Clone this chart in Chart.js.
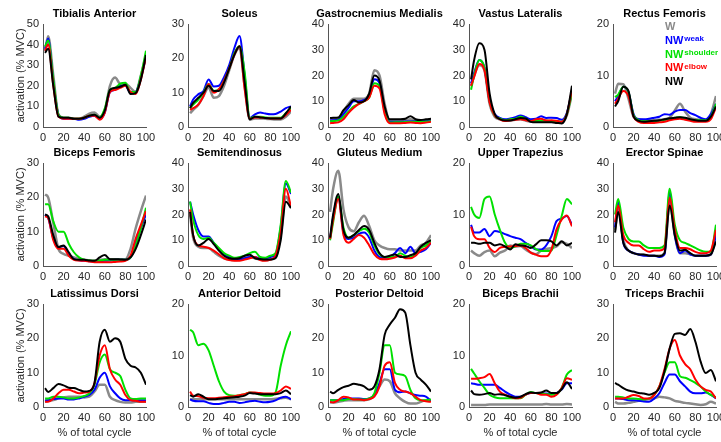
<!DOCTYPE html>
<html>
<head>
<meta charset="utf-8">
<script src="https://cdn.jsdelivr.net/npm/chart.js@4.4.0/dist/chart.umd.min.js"></script>
<style>
  body { margin: 0; background: #fff; width: 721px; height: 442px; overflow: hidden; position: relative; }
  canvas { position: absolute; }
</style>
</head>
<body>
<script>
// % of gait cycle where each value was read
const cycle = [2, 5, 10, 15, 20, 25, 30, 35, 40, 45, 50, 55, 60, 65, 70, 75, 80, 85, 90, 95, 100];

const seriesLabels = ['W', 'NW weak', 'NW shoulder', 'NW elbow', 'NW'];
const seriesColors = ['#8a8a8a', '#0000ff', '#00e000', '#ff0000', '#000000'];

const titles = ['Tibialis Anterior', 'Soleus', 'Gastrocnemius Medialis', 'Vastus Lateralis', 'Rectus Femoris',
  'Biceps Femoris', 'Semitendinosus', 'Gluteus Medium', 'Upper Trapezius', 'Erector Spinae',
  'Latissimus Dorsi', 'Anterior Deltoid', 'Posterior Deltoid', 'Biceps Brachii', 'Triceps Brachii'];
const yMax = [50, 30, 40, 40, 20, 30, 40, 40, 20, 40, 30, 20, 30, 20, 30];

// each muscle: [W, NW weak, NW shoulder, NW elbow, NW]
const tibialisAnterior = [
  [37, 44, 25, 6, 4.5, 4.5, 4, 4, 5, 6.5, 7, 5, 8, 20, 24, 21, 21, 19, 17, 25, 35],
  [38, 43, 22, 6, 4, 4, 4, 3.5, 4, 5, 5.5, 4, 7, 17, 18, 20, 20, 16.5, 17, 24, 34],
  [39, 42, 23, 6, 4.5, 4.5, 4, 4, 4.5, 5.5, 6, 4.5, 9, 18, 19, 21, 21.5, 17, 17, 25, 37],
  [37, 40, 20, 5, 4, 4, 4, 4, 4.5, 5.5, 5.5, 3.5, 7, 17, 18, 19, 20, 17, 16, 23, 34],
  [36, 38, 20, 5, 4.5, 4.5, 4, 4, 4.5, 5.5, 6, 4.5, 8, 18, 19, 19.5, 20.5, 16, 16.5, 23, 35]
];
const soleus = [
  [4, 5, 6.5, 9, 11.5, 8.5, 9, 12, 16.5, 21, 23, 12, 2.2, 2.5, 2.5, 2.4, 2.3, 2.2, 2.2, 3, 4.5],
  [6, 8, 9.5, 10.5, 13.8, 11.8, 12, 14.5, 18, 23, 26.5, 15, 2.6, 3.7, 4.2, 3.9, 3.7, 3.8, 4.5, 5.5, 6],
  [5.5, 6.5, 8, 10, 12.5, 10.5, 11, 13.5, 17, 21.5, 23.5, 16, 2.6, 3, 3, 2.8, 2.7, 2.7, 2.7, 4, 5.5],
  [5, 5.5, 6.5, 9, 12.5, 10, 11, 13.5, 17, 21, 23.5, 11, 2.4, 2.8, 2.8, 2.6, 2.5, 2.5, 2.5, 3.5, 5],
  [5.5, 7, 8.5, 10, 12, 10.5, 10.5, 13, 17, 21, 23.5, 13, 2.2, 3, 2.8, 2.6, 2.5, 2.5, 2.5, 4, 6]
];
const gastrocnemius = [
  [2.8, 3, 3, 6, 9, 11, 11, 11, 13, 22, 20, 9, 2.5, 2.5, 2.5, 2.7, 3, 2.7, 2.5, 2.6, 2.8],
  [2.5, 2.6, 2.8, 5, 7.5, 10, 10, 10.5, 12, 18.5, 17, 7, 2, 2, 2, 2.1, 2.2, 2.2, 2.2, 2.3, 2.5],
  [2.2, 2.3, 2.5, 4, 6, 8, 9, 10, 11.5, 17, 16, 6, 1.7, 1.8, 1.8, 1.9, 2, 2, 2, 2.1, 2.2],
  [1.5, 1.6, 1.8, 3, 5.5, 7.5, 9, 10, 11.5, 16, 15, 5, 1.5, 1.5, 1.5, 1.6, 1.7, 1.6, 1.5, 1.7, 2],
  [3.5, 3.6, 3.7, 6.5, 8.5, 10.5, 9.5, 10, 13, 20, 18, 8, 3, 3, 3, 3.2, 4.2, 3, 2.7, 3, 3.2]
];
const vastusLateralis = [
  [16, 20, 24, 22, 9, 4, 3, 2.5, 2.5, 2.8, 3, 2.5, 2, 2, 2.3, 2.2, 2, 2, 1.8, 4.5, 13],
  [17, 21, 26, 23, 10, 5, 3.5, 3, 3.3, 3.8, 4.5, 3.8, 3, 3.2, 4.2, 3.5, 3.6, 3.5, 2.8, 5.5, 14],
  [14.5, 20, 26, 23, 10, 4.5, 3.3, 2.6, 3, 3.2, 4, 3.2, 2.3, 2.3, 2.5, 2.5, 2.3, 2.3, 2, 5, 13],
  [16, 19.5, 24.5, 22, 9.5, 4.5, 3, 2.3, 2.6, 2.8, 3, 2.6, 2.3, 3, 3.2, 2.5, 2.6, 2.4, 2, 5, 14.5],
  [18.5, 26, 32.5, 30, 13, 5, 3, 2.5, 2.5, 3, 3.5, 3.3, 2, 1.8, 1.8, 1.8, 1.8, 1.6, 1.4, 5, 16]
];
const rectusFemoris = [
  [6.5, 8.4, 8.3, 5.5, 2, 1.5, 1.3, 1.3, 1.3, 1.4, 1.5, 1.8, 3.2, 4.5, 3, 1.8, 1.5, 1.4, 1.3, 2.5, 6],
  [5, 6, 7.8, 6.8, 2.5, 1.5, 1.5, 1.6, 1.8, 2, 2.5, 2.4, 3, 3.3, 3.3, 2.7, 2.3, 1.8, 1.5, 2.5, 4.5],
  [5.8, 6.3, 7.8, 6.8, 2.3, 1.3, 1.1, 1.1, 1.1, 1.2, 1.4, 1.5, 1.8, 1.9, 1.7, 1.4, 1.3, 1.3, 1.3, 2, 4.5],
  [4.5, 5.5, 7, 6, 2, 1, 0.8, 0.8, 0.8, 0.9, 1, 1.3, 1.5, 1.6, 1.4, 1.2, 1, 1, 1, 1.5, 3.8],
  [4, 5, 7.8, 7, 2, 1.2, 1, 1.1, 1.2, 1.3, 1.5, 1.7, 1.8, 1.9, 1.8, 1.5, 1.3, 1.2, 1.2, 2, 4]
];
const bicepsFemoris = [
  [20.8, 20, 12.5, 5, 3.5, 3, 2.5, 2, 1.8, 1.6, 1.5, 1.8, 2, 2, 2, 2, 2, 5, 11, 16, 20.5],
  [15, 14, 8, 5.5, 5.8, 3.5, 2, 1.7, 1.5, 1.4, 1.3, 1.4, 1.5, 1.6, 1.8, 1.8, 1.8, 2.5, 7, 11, 15],
  [18, 18, 13, 10, 10, 6.5, 4, 2.5, 1.8, 1.6, 1.5, 1.6, 1.8, 1.8, 1.8, 1.8, 1.8, 2.5, 6, 11, 17],
  [14.5, 14, 7.5, 5, 5, 3, 1.8, 1.6, 1.5, 1.3, 1.1, 1.1, 1.1, 1.1, 1.2, 1.3, 1.5, 3, 8, 12, 16],
  [15, 14.5, 9, 5.5, 6, 4, 2, 1.8, 1.8, 1.6, 1.5, 2.5, 3.2, 2, 2, 1.9, 1.8, 2.5, 5, 9, 13.5]
];
const semitendinosus = [
  [20, 11, 7.5, 7, 7, 5.5, 4, 3, 2.5, 2.3, 2.5, 3, 3.5, 3, 2.5, 2.3, 2.5, 3.5, 12, 27, 23],
  [25, 20, 14, 11.5, 11.5, 9, 6.5, 4.5, 3.5, 2.5, 2.5, 3, 3.5, 3.5, 3, 3, 3.5, 4.5, 15, 32, 28],
  [25, 18, 12, 10.5, 11, 9, 7, 5, 4, 3.2, 3.5, 4, 5, 5.5, 3.5, 3.2, 4, 5, 16, 33, 28.5],
  [22, 12, 8, 7.5, 7, 6, 4.5, 3, 2.3, 2, 2, 2.5, 3, 3.5, 2.3, 2, 2.5, 4, 13, 30, 23],
  [21, 12, 8, 9, 10.5, 8.5, 6, 4, 3, 2.8, 3, 4, 4.4, 3, 2.7, 2.5, 2.5, 3, 10, 25, 22.5]
];
const gluteusMedium = [
  [21, 30, 37, 22, 15, 13.5, 17, 19.5, 15.5, 10, 8, 7, 6.5, 6.5, 6, 6, 6, 6, 8, 9, 12],
  [10.5, 19, 27, 13, 10.5, 11, 12.5, 13, 11, 6, 3.5, 3.2, 3.5, 5, 7, 5, 7.5, 5, 5.5, 6.5, 9],
  [10, 17, 27, 15, 11, 12, 13.5, 14.5, 13, 8, 4.5, 3.5, 3.5, 3.5, 5, 4, 3.5, 4.5, 7, 8, 10],
  [10.5, 18, 26, 12, 9, 10.5, 12, 11, 8, 4.5, 2.8, 2.6, 2.8, 3.3, 4, 3, 3, 4, 6, 7, 9],
  [11, 20, 28, 14, 11, 12, 14, 15.5, 14, 9, 5, 3.5, 4, 4.5, 3.5, 3.5, 4.2, 5, 7.5, 9, 10]
];
const upperTrapezius = [
  [3, 2.5, 2, 2.7, 3, 1.9, 2.6, 3, 4, 3.8, 3.9, 3.2, 2.6, 2.3, 3, 3.3, 3.5, 3.8, 4.6, 4.3, 3.5],
  [8, 6.5, 6.5, 7.2, 5.8, 6.8, 6.6, 6.2, 5.8, 5.5, 5.2, 4.5, 3.9, 3.2, 3.2, 4, 5.8, 8.7, 9.2, 9.7, 8],
  [11.5, 10, 9.3, 13, 13.5, 10, 7, 4.5, 3.5, 3.8, 4.3, 4.3, 4, 3.3, 2.9, 2.9, 3, 6, 9.7, 13, 12],
  [7.6, 5.8, 5.2, 5.2, 3.5, 2.7, 3.5, 3.7, 3.8, 3.9, 4, 3.5, 2.6, 2.2, 1.9, 1.9, 3.2, 7.1, 9, 9.8, 7.7],
  [4.5, 4.5, 4.3, 4.5, 4.5, 4, 4.2, 3.8, 3.2, 4.2, 4, 3.9, 3.5, 4.2, 5, 5, 4.8, 4, 4.8, 4, 4.5]
];
const erectorSpinae = [
  [14, 22, 10, 6, 5, 4.5, 4.3, 4, 4, 4, 5, 25, 12, 5, 5, 4.5, 4, 4, 4, 4.5, 11],
  [15, 25, 9, 6, 5, 4.5, 4, 4, 4, 3.5, 4.5, 28.5, 12, 5, 6, 4.5, 4, 4, 4, 4.5, 12],
  [20, 26, 15, 10.5, 9.5, 9.5, 8, 7, 7, 7, 8, 30, 16, 10, 9, 8, 7, 6, 5.5, 5.5, 16],
  [17, 23.5, 12, 9, 8, 8, 6.5, 5.5, 6, 6, 7, 26.5, 14, 7, 7, 6.5, 5.5, 5, 5, 6, 14],
  [13, 21, 9, 6, 5, 4.5, 4.5, 4, 4, 3.8, 5, 23.5, 12, 6, 6.3, 5, 4, 4, 4, 4.5, 9.5]
];
const latissimusDorsi = [
  [1.5, 1.8, 2, 2.5, 2.8, 3, 3, 3, 2.8, 3, 4.5, 6.5, 6.5, 3, 2, 1.5, 1.3, 1.3, 1.5, 1.5, 1.5],
  [2, 2, 2.3, 2.5, 2.5, 2.2, 2.2, 2.5, 3, 3.5, 5, 8.5, 10, 6, 4, 2.5, 2, 2, 2, 2, 2],
  [2.5, 2.5, 3, 3, 2.8, 2.5, 2.5, 2.8, 3.2, 4, 6.5, 13, 15.3, 11, 10, 9, 5, 2.5, 2.3, 2.5, 2.5],
  [1.5, 1.5, 2.5, 4, 5, 5, 4.5, 4, 4.2, 4.5, 7, 15, 18, 11, 8, 6.5, 3.5, 2, 1.8, 1.5, 1.5],
  [5.5, 4.4, 5.5, 6.7, 6.3, 5.6, 5.5, 5, 4.5, 4.7, 7, 19, 22.5, 19, 20, 19, 14, 12, 11.5, 10, 6.5]
];
const anteriorDeltoid = [
  [1.5, 1.5, 1.5, 1.5, 1.5, 1.5, 1.5, 1.5, 1.5, 1.5, 1.5, 1.5, 1.5, 1.5, 1.5, 1.5, 1.5, 1.6, 1.7, 1.8, 1.5],
  [1.5, 1.2, 1.1, 1.1, 0.8, 0.6, 0.6, 0.8, 1, 1, 0.8, 0.9, 1.1, 1.2, 1, 0.9, 1, 1.3, 1.8, 2, 1.5],
  [15, 14.5, 12, 12.3, 11, 8, 5, 3, 2.3, 2.2, 2.3, 2.5, 2.8, 2.7, 2.4, 2.2, 2.2, 2.8, 8, 12, 14.7],
  [3, 2.2, 2.1, 1.8, 1.7, 1.7, 1.8, 1.9, 2, 2.1, 2.3, 2.5, 2.8, 2.8, 2.7, 2.6, 2.6, 2.7, 3.2, 4, 3.5],
  [2.3, 2, 2.5, 2, 1.5, 1.5, 1.6, 1.7, 1.8, 1.9, 2, 2.2, 2.7, 2.6, 2.5, 2.5, 2.5, 2.5, 2.7, 3.2, 2.5]
];
const posteriorDeltoid = [
  [1.3, 1.3, 1.5, 1.8, 2, 2, 2, 2, 2.2, 3.5, 6, 8, 7.5, 4, 2.5, 1.5, 1, 1, 1.5, 2, 2],
  [2, 2, 2, 2.3, 2.5, 2.5, 2.5, 2.3, 2.5, 3.5, 7, 11, 11, 5, 4.3, 4.5, 4, 3.5, 3.3, 3, 1.8],
  [2, 2, 2, 2, 2.3, 2.3, 2.2, 2.2, 2.5, 4, 10, 18, 18, 10, 9.5, 9, 5, 2.5, 2, 2, 2.2],
  [1.5, 1.3, 2, 3, 2.8, 2.2, 2.2, 2, 2.3, 3, 6, 12, 13, 7, 5, 4.5, 4, 3, 2, 1.7, 1.5],
  [4.5, 4, 5, 5.8, 6.2, 6.8, 6.5, 6, 5, 6, 11, 21, 24, 26, 28.5, 27.5, 18, 10, 8, 6.5, 4.5]
];
const bicepsBrachii = [
  [0.4, 0.4, 0.4, 0.4, 0.5, 0.5, 0.5, 0.5, 0.5, 0.5, 0.5, 0.5, 0.5, 0.5, 0.5, 0.6, 0.5, 0.5, 0.5, 0.6, 0.5],
  [4.6, 4.5, 4.3, 4.3, 4.3, 4.3, 3.7, 3, 2.4, 2, 2, 2.4, 2.7, 2.7, 2.7, 2.6, 2.5, 2.7, 3.4, 4.6, 4.6],
  [7.4, 6.5, 5, 3.7, 2.4, 1.9, 1.7, 1.7, 1.7, 1.7, 1.7, 2.4, 2.9, 2.7, 2.6, 2.5, 2.4, 2.5, 3.7, 6.3, 7.2],
  [5.5, 5.5, 5.6, 5.8, 6.4, 4.6, 3, 2.4, 2, 1.7, 1.8, 2.4, 2.7, 2.7, 2.4, 2.4, 2, 2.4, 3.7, 5.6, 5.3],
  [3.2, 2.5, 2.4, 2.5, 2.7, 2.4, 2.5, 2.3, 2, 1.8, 2, 2.5, 2.8, 2.7, 2.8, 3.2, 2.7, 2.7, 3.5, 4.8, 3.5]
];
const tricepsBrachii = [
  [1.5, 1, 1, 1.2, 1.5, 1.8, 2, 2.3, 2.5, 3, 2.8, 2.5, 1.8, 1.5, 1.2, 1, 0.8, 0.6, 0.8, 1.5, 1],
  [2.5, 2.5, 2.3, 2, 2, 1.8, 1.6, 1.5, 2.5, 4, 7, 9.5, 9.5, 7.5, 6, 4.5, 4, 4, 4.2, 3.5, 2.5],
  [3, 3, 2.8, 2.5, 2.5, 2.3, 2.2, 2.5, 3.5, 6, 10, 13, 13, 9, 8.5, 7.8, 7, 6, 4.5, 3.5, 2.8],
  [2.5, 2.5, 2.5, 3, 3.5, 3.2, 2.5, 2.5, 3.5, 6, 11, 17, 19.5, 15, 12.5, 11, 8, 6, 5, 4.5, 2.5],
  [7, 6.5, 5.5, 4.8, 4.5, 4.1, 3.9, 3.6, 4.1, 5.5, 10.4, 17, 21.3, 21.5, 21, 22.7, 19, 13.3, 9.9, 10.8, 7.5]
];

const muscles = [tibialisAnterior, soleus, gastrocnemius, vastusLateralis, rectusFemoris,
  bicepsFemoris, semitendinosus, gluteusMedium, upperTrapezius, erectorSpinae,
  latissimusDorsi, anteriorDeltoid, posteriorDeltoid, bicepsBrachii, tricepsBrachii];

// legend text drawn inside the Rectus Femoris panel
const legendMain = ['W', 'NW', 'NW', 'NW', 'NW'];
const legendSub = ['', 'weak', 'shoulder', 'elbow', ''];

const FONT = '"Liberation Sans", Arial, Helvetica, sans-serif';
Chart.defaults.font.family = FONT;
Chart.defaults.font.size = 11;
Chart.defaults.color = '#262626';

const plotLeft = [43, 188, 328, 469, 613];
const plotTop = [24, 163, 304];
const plotW = 103, plotH = 103, titleH = 17;

const legendPlugin = {
  id: 'condLegend',
  afterDatasetsDraw(chart) {
    const ctx = chart.ctx;
    const a = chart.chartArea;
    ctx.save();
    ctx.textBaseline = 'middle';
    ctx.textAlign = 'left';
    legendMain.forEach((txt, i) => {
      const x = a.left + 52;
      const y = a.top + 3 + i * 13.8;
      ctx.fillStyle = seriesColors[i];
      ctx.font = 'bold 11px ' + FONT;
      ctx.fillText(txt, x, y);
      if (legendSub[i]) {
        const w = ctx.measureText(txt).width;
        ctx.font = 'bold 8px ' + FONT;
        ctx.fillText(legendSub[i], x + w + 1, y - 2);
      }
    });
    ctx.restore();
  }
};

muscles.forEach((m, k) => {
  const r = Math.floor(k / 5), c = k % 5;
  const yW = c === 0 ? 43 : 30;
  const xH = r === 2 ? 36 : 20;
  const w = yW + plotW + yW; // empty right axis of same width keeps the title centred over the plot
  const h = titleH + plotH + xH;
  const cv = document.createElement('canvas');
  cv.width = w; cv.height = h;
  cv.style.width = w + 'px'; cv.style.height = h + 'px';
  cv.style.left = (plotLeft[c] - yW) + 'px';
  cv.style.top = (plotTop[r] - titleH) + 'px';
  document.body.appendChild(cv);

  const datasets = m.map((vals, s) => ({
    label: seriesLabels[s],
    data: cycle.map((x, i) => ({ x, y: vals[i] })),
    borderColor: seriesColors[s],
    borderWidth: s === 0 ? 2.5 : 2,
    pointRadius: 0,
    fill: false,
    cubicInterpolationMode: 'monotone',
    order: 5 - s
  }));

  new Chart(cv, {
    type: 'line',
    data: { datasets },
    options: {
      responsive: false,
      animation: false,
      devicePixelRatio: 1,
      layout: { padding: 0 },
      plugins: {
        legend: { display: false },
        tooltip: { enabled: false },
        title: {
          display: true,
          text: titles[k],
          color: '#000',
          font: { size: 11, weight: 'bold', lineHeight: '14px' },
          padding: { top: 0, bottom: 3 }
        }
      },
      scales: {
        x: {
          type: 'linear', min: 0, max: 100,
          grid: { display: false, drawTicks: false },
          border: { display: true, color: '#555', width: 1 },
          ticks: { stepSize: 20, padding: 4, maxRotation: 0, autoSkip: false },
          title: { display: r === 2, text: '% of total cycle', padding: { top: 0, bottom: 3 }, font: { size: 11 } },
          afterFit: s => { s.height = xH; }
        },
        y: {
          min: 0, max: yMax[k],
          grid: { display: false, drawTicks: false },
          border: { display: true, color: '#555', width: 1 },
          ticks: { stepSize: 10, padding: 4, autoSkip: false },
          title: { display: c === 0, text: 'activation (% MVC)', padding: { top: 14, bottom: 0 }, font: { size: 11 } },
          afterFit: s => { s.width = yW; }
        },
        yRight: {
          position: 'right',
          min: 0, max: yMax[k],
          grid: { display: false, drawTicks: false },
          border: { display: false },
          ticks: { display: false },
          afterFit: s => { s.width = yW; }
        }
      }
    },
    plugins: k === 4 ? [legendPlugin] : []
  });
});
</script>
</body>
</html>
